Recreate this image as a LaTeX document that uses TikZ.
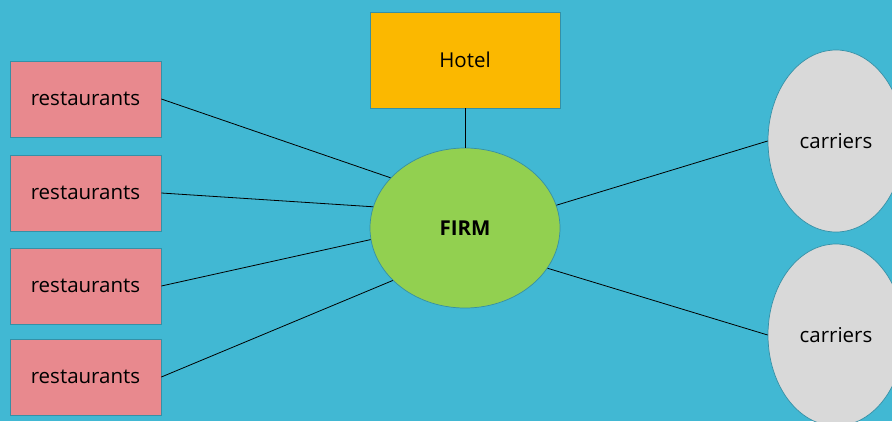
\documentclass[tikz,border=0pt]{standalone}
\usepackage{fontspec}
\setmainfont{Open Sans}
\usetikzlibrary{shapes.geometric}
\definecolor{bgblue}{HTML}{41B8D3}
\definecolor{edgeteal}{HTML}{3590A6}
\definecolor{restpink}{HTML}{E8898E}
\definecolor{hotelgold}{HTML}{FBB800}
\definecolor{firmgreen}{HTML}{92D050}
\definecolor{carriergrey}{HTML}{D9D9D9}
\tikzset{
  every node/.style={font=\fontsize{20.5}{24}\selectfont, text=black},
  restbox/.style={rectangle, draw=edgeteal, line width=0.7pt, fill=restpink,
    minimum width=151pt, minimum height=76pt, inner sep=0pt},
  hotelbox/.style={rectangle, draw=edgeteal, line width=0.7pt, fill=hotelgold,
    minimum width=190pt, minimum height=96pt, inner sep=0pt},
  firmoval/.style={ellipse, draw=edgeteal, line width=0.7pt, fill=firmgreen,
    minimum width=190pt, minimum height=160pt, inner sep=0pt},
  carrieroval/.style={ellipse, draw=edgeteal, line width=0.7pt, fill=carriergrey,
    minimum width=136pt, minimum height=182pt, inner sep=0pt},
  link/.style={draw=black, line width=0.8pt}
}
\begin{document}
\begin{tikzpicture}[x=1pt, y=-1pt]
  % backdrop, also fixing the page size
  \fill[bgblue] (0,0) rectangle (892,421);
  \useasboundingbox (0,0) rectangle (892,421);
  \begin{scope}
    \clip (0,0) rectangle (892,421);
    % central firm and its partners
    \node[hotelbox] (hotel) at (465,60) {Hotel};
    \node[firmoval] (firm) at (465,228) {\bfseries FIRM};
    \node[restbox] (r1) at (85.5,99) {restaurants};
    \node[restbox] (r2) at (85.5,193) {restaurants};
    \node[restbox] (r3) at (85.5,286) {restaurants};
    \node[restbox] (r4) at (85.5,377) {restaurants};
    \node[carrieroval] (c1) at (836,141) {carriers};
    \node[carrieroval] (c2) at (836,335) {carriers};
    % connections
    \draw[link] (hotel.south) -- (firm.north);
    \draw[link] (r1.east) -- (firm.146);
    \draw[link] (r2.east) -- (firm.167);
    \draw[link] (r3.east) -- (firm.187);
    \draw[link] (r4.east) -- (firm.216);
    \draw[link] (firm.14) -- (c1.west);
    \draw[link] (firm.-26) -- (c2.west);
  \end{scope}
\end{tikzpicture}
\end{document}
